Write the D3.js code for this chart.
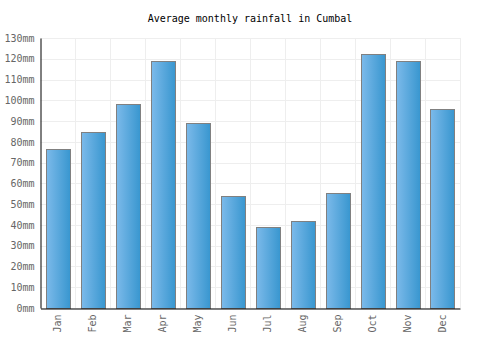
<!DOCTYPE html>
<html><head><meta charset="utf-8">
<script src="https://cdn.jsdelivr.net/npm/d3@7"></script>
<style>body{margin:0;background:#fff;}svg{display:block;}</style>
</head><body>
<script>
const months = ["Jan","Feb","Mar","Apr","May","Jun","Jul","Aug","Sep","Oct","Nov","Dec"];
const rainfall = [76.5, 84.7, 98.2, 118.8, 89.1, 53.8, 38.9, 41.8, 55.2, 122.2, 118.8, 95.7];
const yTicks = [0,10,20,30,40,50,60,70,80,90,100,110,120,130];
const title = "Average monthly rainfall in Cumbal";

const W = 500, H = 350;
const m = {left: 40.5, right: 40, top: 38, bottom: 42};
const svg = d3.select("body").append("svg").attr("width", W).attr("height", H);
const font = "'DejaVu Sans Mono', monospace";

const defs = svg.append("defs");
const g = defs.append("linearGradient").attr("id","bg").attr("x1","0").attr("x2","1").attr("y1","0").attr("y2","0");
g.append("stop").attr("offset","0%").attr("stop-color","#7cbaea");
g.append("stop").attr("offset","100%").attr("stop-color","#3896cf");

const x = d3.scaleBand().domain(months).range([m.left, W - m.right]).paddingInner(0.31).paddingOuter(0.155);
const y = d3.scaleLinear().domain([0,130]).range([H - m.bottom, m.top]);

// grid
const xb = d3.scaleBand().domain(months).range([m.left, W - m.right]);
svg.append("g").selectAll("line.h").data(yTicks).join("line")
  .attr("x1", m.left).attr("x2", W - m.right)
  .attr("y1", d => Math.round(y(d)) + 0.5).attr("y2", d => Math.round(y(d)) + 0.5)
  .attr("stroke", "#eeeeee").attr("stroke-width", 1);
svg.append("g").selectAll("line.v").data(months).join("line")
  .attr("x1", d => Math.round(xb(d) + xb.bandwidth()) + 0.5).attr("x2", d => Math.round(xb(d) + xb.bandwidth()) + 0.5)
  .attr("y1", m.top).attr("y2", H - m.bottom)
  .attr("stroke", "#eeeeee").attr("stroke-width", 1);

// bars
svg.append("g").selectAll("rect").data(rainfall).join("rect")
  .attr("x", (d,i) => Math.round(x(months[i])) + 0.5)
  .attr("y", d => Math.round(y(d)) + 0.5)
  .attr("width", Math.round(x.bandwidth()))
  .attr("height", d => Math.round(y(0)) - Math.round(y(d)))
  .attr("fill", "url(#bg)").attr("stroke", "#808080").attr("stroke-width", 1);

// axes
const ya = svg.append("g").attr("transform", `translate(${m.left},0)`)
  .call(d3.axisLeft(y).tickValues(yTicks).tickSize(0).tickPadding(6).tickFormat(d => d + "mm"));
ya.select(".domain").attr("stroke", "#000");
ya.selectAll("text").attr("fill", "#666").style("font-family", font).style("font-size", "10px");

const xa = svg.append("g").attr("transform", `translate(0,${H - m.bottom + 0.5})`)
  .call(d3.axisBottom(x).tickSize(0).tickPadding(6));
xa.select(".domain").attr("stroke", "#000");
xa.selectAll("text").attr("fill", "#666").style("font-family", font).style("font-size", "10px")
  .attr("transform", "rotate(-90)").attr("text-anchor", "end").attr("dy", "0.35em").attr("x", -6).attr("y", 0);

svg.append("text").attr("x", 250).attr("y", 22).attr("text-anchor", "middle")
  .style("font-family", font).style("font-size", "10px").attr("fill", "#000").text(title);
</script>
</body></html>
